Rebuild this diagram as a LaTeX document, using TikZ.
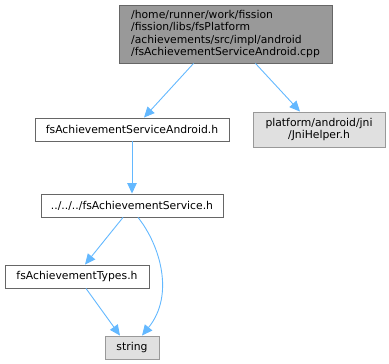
\documentclass[tikz,border=0pt]{standalone}
\usepackage{fontspec}
\setmainfont{DejaVu Sans}
\usetikzlibrary{calc,arrows.meta}
\definecolor{edgeblue}{HTML}{63B8FF}
\definecolor{topfill}{HTML}{999999}
\definecolor{darkborder}{HTML}{666666}
\definecolor{grayfill}{HTML}{E0E0E0}
\definecolor{grayborder}{HTML}{999999}
\tikzset{
  base/.style={draw, line width=0.9pt, inner sep=0pt, font=\fontsize{10.8}{12.3}\selectfont},
  topnode/.style={base, fill=topfill, draw=darkborder, align=left},
  filebox/.style={base, fill=white, draw=darkborder},
  extbox/.style={base, fill=grayfill, draw=grayborder, align=center},
  dep/.style={draw=edgeblue, line width=0.9pt, -{Triangle[length=10.5pt,width=9.5pt]}}
}
\begin{document}
\begin{tikzpicture}[x=1pt,y=-1pt]
\useasboundingbox (0,0) rectangle (389,364);
\node[topnode, minimum width=213pt, minimum height=58pt] (top) at (225.5,34)
  {/home/runner/work/fission\\/fission/libs/fsPlatform\\/achievements/src/impl/android\\/fsAchievementServiceAndroid.cpp};
\node[filebox, minimum width=194pt, minimum height=23pt] (android) at (132,129.5) {fsAchievementServiceAndroid.h};
\node[extbox, minimum width=132pt, minimum height=35pt] (jni) at (319,129.5) {platform/android/jni\\/JniHelper.h};
\node[filebox, minimum width=182pt, minimum height=23pt] (service) at (132,205.5) {../../../fsAchievementService.h};
\node[filebox, minimum width=144pt, minimum height=23pt] (types) at (77,276.5) {fsAchievementTypes.h};
\node[extbox, minimum width=54pt, minimum height=23pt] (string) at (132,347.5) {string};

\draw[dep] ($(top.south)+(-32,0)$) -- ($(android.north)+(12,0)$);
\draw[dep] ($(top.south)+(30,0)$) -- ($(jni.north)+(-19,0)$);
\draw[dep] (android.south) -- (service.north);
\draw[dep] ($(service.south)+(-9,0)$) -- ($(types.north)+(8,0)$);
\draw[dep] ($(service.south)+(6,0)$) .. controls (160,245) and (175,295) .. ($(string.north)+(10,0)$);
\draw[dep] ($(types.south)+(9,0)$) -- ($(string.north)+(-12,0)$);
\end{tikzpicture}
\end{document}
